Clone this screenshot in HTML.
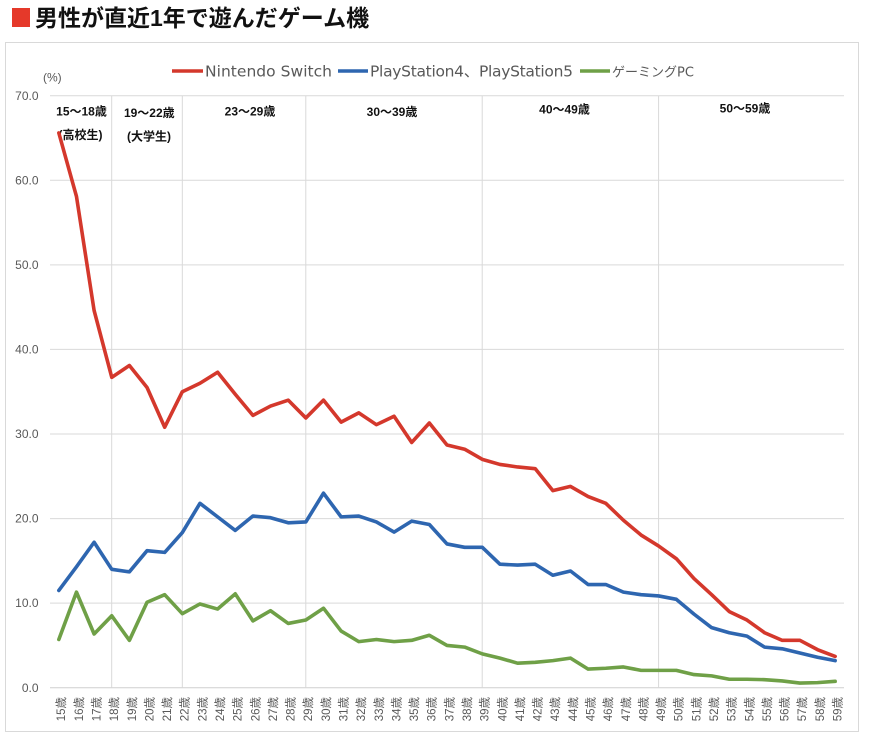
<!DOCTYPE html>
<html><head><meta charset="utf-8">
<style>
html,body{margin:0;padding:0;background:#fff;}
svg{display:block;}
.yl{font-family:"Liberation Sans","DejaVu Sans",sans-serif;font-size:12px;fill:#595959;}
.xl{font-family:"Liberation Sans","Noto Sans CJK JP",sans-serif;font-size:11.5px;fill:#595959;}
.gl{font-family:"Liberation Sans","Noto Sans CJK JP",sans-serif;font-size:12px;font-weight:bold;fill:#111;}
.lg{font-family:"DejaVu Sans","Noto Sans CJK JP",sans-serif;font-size:15.5px;fill:#595959;}
.lgj{font-family:"DejaVu Sans","Noto Sans CJK JP",sans-serif;font-size:13px;fill:#595959;}
</style></head>
<body>
<svg width="870" height="742" viewBox="0 0 870 742" xmlns="http://www.w3.org/2000/svg">
<rect x="0" y="0" width="870" height="742" fill="#fff"/>
<!-- title -->
<rect x="12" y="8" width="18" height="19" fill="#e5392a"/>
<text x="35" y="26" font-family="Liberation Sans, Noto Sans CJK JP, sans-serif" font-size="23" font-weight="bold" fill="#111">男性が直近1年で遊んだゲーム機</text>
<!-- chart frame -->
<rect x="5.5" y="42.5" width="853" height="689" fill="#fff" stroke="#d9d9d9" stroke-width="1"/>
<!-- legend -->
<line x1="172" y1="71" x2="203" y2="71" stroke="#d4382c" stroke-width="3.5"/>
<text class="lg" x="205" y="76.5" textLength="127">Nintendo Switch</text>
<line x1="338" y1="71" x2="368" y2="71" stroke="#2e66b0" stroke-width="3.5"/>
<text class="lg" x="370" y="76.5" textLength="203">PlayStation4、PlayStation5</text>
<line x1="580" y1="71" x2="610" y2="71" stroke="#6fa047" stroke-width="3.5"/>
<text class="lgj" x="612" y="76.5">ゲーミングPC</text>
<!-- (%) -->
<text class="yl" x="43" y="81.5" fill="#404040">(%)</text>
<!-- horizontal gridlines -->
<g stroke="#d9d9d9" stroke-width="1">
<line x1="50" y1="95.7" x2="844" y2="95.7"/>
<line x1="50" y1="180.3" x2="844" y2="180.3"/>
<line x1="50" y1="264.9" x2="844" y2="264.9"/>
<line x1="50" y1="349.4" x2="844" y2="349.4"/>
<line x1="50" y1="434.0" x2="844" y2="434.0"/>
<line x1="50" y1="518.6" x2="844" y2="518.6"/>
<line x1="50" y1="603.1" x2="844" y2="603.1"/>
<line x1="50" y1="687.7" x2="844" y2="687.7" stroke="#cfcfcf"/>
</g>
<!-- vertical separators -->
<g stroke="#d9d9d9" stroke-width="1">
<line x1="111.7" y1="95.7" x2="111.7" y2="687.7"/>
<line x1="182.3" y1="95.7" x2="182.3" y2="687.7"/>
<line x1="305.8" y1="95.7" x2="305.8" y2="687.7"/>
<line x1="482.2" y1="95.7" x2="482.2" y2="687.7"/>
<line x1="658.6" y1="95.7" x2="658.6" y2="687.7"/>
</g>
<!-- y labels -->
<g class="yl" text-anchor="end">
<text x="38.5" y="99.8">70.0</text>
<text x="38.5" y="184.4">60.0</text>
<text x="38.5" y="269.0">50.0</text>
<text x="38.5" y="353.5">40.0</text>
<text x="38.5" y="438.1">30.0</text>
<text x="38.5" y="522.7">20.0</text>
<text x="38.5" y="607.2">10.0</text>
<text x="38.5" y="691.8">0.0</text>
</g>
<!-- group labels -->
<g class="gl" text-anchor="middle">
<text x="81.5" y="115.5">15〜18歳</text>
<text x="80.5" y="139">(高校生)</text>
<text x="149.3" y="117">19〜22歳</text>
<text x="149" y="140.5">(大学生)</text>
<text x="250" y="115.5">23〜29歳</text>
<text x="392" y="116">30〜39歳</text>
<text x="564.5" y="113.5">40〜49歳</text>
<text x="745" y="112.5">50〜59歳</text>
</g>
<!-- series -->
<g transform="matrix(17.644 0 0 -8.457 58.822 687.7)" fill="none" stroke-linejoin="round" stroke-linecap="round">
<polyline vector-effect="non-scaling-stroke" stroke="#6fa047" stroke-width="3.6" points="0,5.7 1,11.3 2,6.35 3,8.5 4,5.6 5,10.1 6,11.0 7,8.75 8,9.9 9,9.3 10,11.1 11,7.9 12,9.1 13,7.6 14,8.0 15,9.4 16,6.7 17,5.45 18,5.7 19,5.45 20,5.6 21,6.2 22,5.0 23,4.8 24,4.0 25,3.5 26,2.9 27,3.0 28,3.2 29,3.5 30,2.2 31,2.3 32,2.45 33,2.05 34,2.05 35,2.05 36,1.55 37,1.4 38,1.0 39,1.0 40,0.95 41,0.8 42,0.55 43,0.6 44,0.75"/>
<polyline vector-effect="non-scaling-stroke" stroke="#2e66b0" stroke-width="3.6" points="0,11.5 1,14.3 2,17.2 3,14.0 4,13.7 5,16.2 6,16.0 7,18.35 8,21.8 9,20.2 10,18.6 11,20.3 12,20.1 13,19.5 14,19.6 15,23.0 16,20.2 17,20.3 18,19.6 19,18.4 20,19.7 21,19.3 22,17.0 23,16.6 24,16.6 25,14.6 26,14.5 27,14.6 28,13.3 29,13.8 30,12.2 31,12.2 32,11.3 33,11.0 34,10.85 35,10.45 36,8.7 37,7.1 38,6.5 39,6.1 40,4.8 41,4.6 42,4.1 43,3.6 44,3.2"/>
<polyline vector-effect="non-scaling-stroke" stroke="#d4382c" stroke-width="3.6" points="0,65.6 1,58.1 2,44.6 3,36.7 4,38.1 5,35.5 6,30.8 7,35.0 8,36.0 9,37.3 10,34.7 11,32.2 12,33.3 13,34.0 14,31.9 15,34.0 16,31.4 17,32.5 18,31.1 19,32.1 20,29.0 21,31.3 22,28.7 23,28.2 24,27.0 25,26.4 26,26.1 27,25.9 28,23.3 29,23.8 30,22.6 31,21.8 32,19.8 33,18.05 34,16.75 35,15.25 36,12.9 37,11.0 38,9.0 39,8.0 40,6.5 41,5.6 42,5.6 43,4.5 44,3.7"/>
</g>
<!-- x labels -->
<g class="xl" text-anchor="end">
<text transform="translate(65.2,697) rotate(-90)">15歳</text>
<text transform="translate(82.8,697) rotate(-90)">16歳</text>
<text transform="translate(100.5,697) rotate(-90)">17歳</text>
<text transform="translate(118.1,697) rotate(-90)">18歳</text>
<text transform="translate(135.8,697) rotate(-90)">19歳</text>
<text transform="translate(153.4,697) rotate(-90)">20歳</text>
<text transform="translate(171.1,697) rotate(-90)">21歳</text>
<text transform="translate(188.7,697) rotate(-90)">22歳</text>
<text transform="translate(206.3,697) rotate(-90)">23歳</text>
<text transform="translate(224.0,697) rotate(-90)">24歳</text>
<text transform="translate(241.6,697) rotate(-90)">25歳</text>
<text transform="translate(259.3,697) rotate(-90)">26歳</text>
<text transform="translate(276.9,697) rotate(-90)">27歳</text>
<text transform="translate(294.6,697) rotate(-90)">28歳</text>
<text transform="translate(312.2,697) rotate(-90)">29歳</text>
<text transform="translate(329.9,697) rotate(-90)">30歳</text>
<text transform="translate(347.5,697) rotate(-90)">31歳</text>
<text transform="translate(365.1,697) rotate(-90)">32歳</text>
<text transform="translate(382.8,697) rotate(-90)">33歳</text>
<text transform="translate(400.4,697) rotate(-90)">34歳</text>
<text transform="translate(418.1,697) rotate(-90)">35歳</text>
<text transform="translate(435.7,697) rotate(-90)">36歳</text>
<text transform="translate(453.4,697) rotate(-90)">37歳</text>
<text transform="translate(471.0,697) rotate(-90)">38歳</text>
<text transform="translate(488.6,697) rotate(-90)">39歳</text>
<text transform="translate(506.3,697) rotate(-90)">40歳</text>
<text transform="translate(523.9,697) rotate(-90)">41歳</text>
<text transform="translate(541.6,697) rotate(-90)">42歳</text>
<text transform="translate(559.2,697) rotate(-90)">43歳</text>
<text transform="translate(576.9,697) rotate(-90)">44歳</text>
<text transform="translate(594.5,697) rotate(-90)">45歳</text>
<text transform="translate(612.1,697) rotate(-90)">46歳</text>
<text transform="translate(629.8,697) rotate(-90)">47歳</text>
<text transform="translate(647.4,697) rotate(-90)">48歳</text>
<text transform="translate(665.1,697) rotate(-90)">49歳</text>
<text transform="translate(682.7,697) rotate(-90)">50歳</text>
<text transform="translate(700.4,697) rotate(-90)">51歳</text>
<text transform="translate(718.0,697) rotate(-90)">52歳</text>
<text transform="translate(735.6,697) rotate(-90)">53歳</text>
<text transform="translate(753.3,697) rotate(-90)">54歳</text>
<text transform="translate(770.9,697) rotate(-90)">55歳</text>
<text transform="translate(788.6,697) rotate(-90)">56歳</text>
<text transform="translate(806.2,697) rotate(-90)">57歳</text>
<text transform="translate(823.9,697) rotate(-90)">58歳</text>
<text transform="translate(841.5,697) rotate(-90)">59歳</text>
</g>
</svg>
</body></html>
